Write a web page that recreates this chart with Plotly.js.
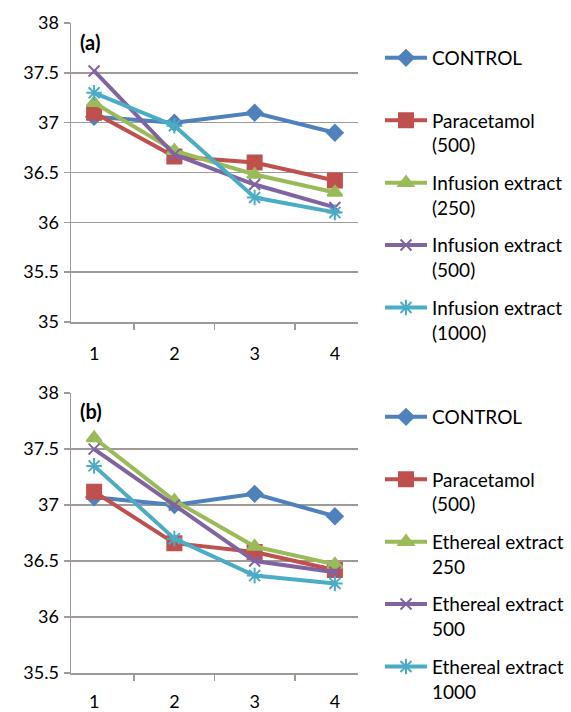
<!DOCTYPE html>
<html>
<head>
<meta charset="utf-8">
<script src="https://cdn.plot.ly/plotly-3.0.1.min.js"></script>
<style>html,body{margin:0;padding:0;background:#fff;}#chart{width:571px;height:712px;}</style>
</head>
<body>
<div id="chart"></div>
<script>
const days = ["1", "2", "3", "4"];

// Panel (a): infusion extract
const controlA = [37.06, 37.0, 37.1, 36.9];
const paracetamolA = [37.1, 36.66, 36.6, 36.42];
const infusion250 = [37.2, 36.72, 36.48, 36.3];
const infusion500 = [37.52, 36.68, 36.38, 36.15];
const infusion1000 = [37.3, 36.97, 36.25, 36.1];

// Panel (b): ethereal extract
const controlB = [37.07, 37.0, 37.1, 36.9];
const paracetamolB = [37.12, 36.66, 36.58, 36.42];
const ethereal250 = [37.6, 37.04, 36.63, 36.47];
const ethereal500 = [37.5, 37.0, 36.5, 36.4];
const ethereal1000 = [37.35, 36.7, 36.37, 36.3];

const namesA = ["CONTROL<br> ", "Paracetamol<br>(500)", "Infusion extract<br>(250)", "Infusion extract<br>(500)", "Infusion extract<br>(1000)"];
const namesB = ["CONTROL<br> ", "Paracetamol<br>(500)", "Ethereal extract<br>250", "Ethereal extract<br>500", "Ethereal extract<br>1000"];

const colors = ["#4F81BD", "#C0504D", "#9BBB59", "#8064A2", "#4BACC6"];
const markers = [
  {symbol: "diamond", size: 12},
  {symbol: "square", size: 14},
  {symbol: "triangle-up", size: 13},
  {symbol: "x-thin-open", size: 11},
  {symbol: "asterisk-open", size: 13}
];

const seriesA = [controlA, paracetamolA, infusion250, infusion500, infusion1000];
const seriesB = [controlB, paracetamolB, ethereal250, ethereal500, ethereal1000];

const traces = [];
seriesA.forEach((ys, i) => {
  traces.push({
    x: days, y: ys, name: namesA[i], type: "scatter", mode: "lines+markers",
    xaxis: "x", yaxis: "y", legend: "legend", legendgroup: "a" + i,
    line: {color: colors[i], width: 4},
    marker: {symbol: markers[i].symbol, size: markers[i].size, color: colors[i], line: {color: colors[i], width: 2}}
  });
});
seriesB.forEach((ys, i) => {
  traces.push({
    x: days, y: ys, name: namesB[i], type: "scatter", mode: "lines+markers",
    xaxis: "x2", yaxis: "y2", legend: "legend2", legendgroup: "b" + i,
    line: {color: colors[i], width: 4},
    marker: {symbol: markers[i].symbol, size: markers[i].size, color: colors[i], line: {color: colors[i], width: 2}}
  });
});

const W = 571, H = 712;
const fx = px => px / W;
const fy = py => 1 - py / H;
const fam = "Lato, 'Liberation Sans', sans-serif";
const font = {family: fam, size: 18, color: "#000"};
const gridC = "#a09a96";

const xCommon = {
  type: "category", showline: true, linecolor: gridC, linewidth: 1.5,
  ticks: "outside", tickson: "boundaries", ticklen: 6, tickcolor: gridC, tickwidth: 1.5,
  showgrid: false, tickfont: font, fixedrange: true
};
const yCommon = {
  showline: true, linecolor: gridC, linewidth: 1.5,
  ticks: "outside", ticklen: 6, tickcolor: gridC, tickwidth: 1.5,
  showgrid: true, gridcolor: gridC, gridwidth: 1.5, zeroline: false,
  dtick: 0.5, tickfont: font, ticklabelstandoff: 1, fixedrange: true
};

const legendFont = {family: fam, size: 19, color: "#000"};

const layout = {
  width: W, height: H,
  margin: {l: 0, r: 0, t: 0, b: 0},
  paper_bgcolor: "#fff", plot_bgcolor: "#fff",
  showlegend: true,
  xaxis: Object.assign({}, xCommon, {domain: [fx(71), fx(358)], anchor: "y", ticklabelstandoff: 15}),
  yaxis: Object.assign({}, yCommon, {domain: [fy(322), fy(23)], range: [35, 38.001], anchor: "x"}),
  xaxis2: Object.assign({}, xCommon, {domain: [fx(71), fx(358)], anchor: "y2", ticklabelstandoff: 12}),
  yaxis2: Object.assign({}, yCommon, {domain: [fy(673), fy(393)], range: [35.5, 38.001], anchor: "x2"}),
  legend: {x: fx(380), y: fy(39), xanchor: "left", yanchor: "top", font: legendFont, valign: "top", itemwidth: 42, tracegroupgap: 10, bgcolor: "rgba(0,0,0,0)", borderwidth: 0},
  legend2: {x: fx(380), y: fy(398), xanchor: "left", yanchor: "top", font: legendFont, valign: "top", itemwidth: 42, tracegroupgap: 10, bgcolor: "rgba(0,0,0,0)", borderwidth: 0},
  annotations: [
    {text: "<b>(a)</b>", xref: "paper", yref: "paper", x: fx(78), y: fy(42), xanchor: "left", yanchor: "middle", showarrow: false, font: {family: fam, size: 20, color: "#000"}},
    {text: "<b>(b)</b>", xref: "paper", yref: "paper", x: fx(78), y: fy(411), xanchor: "left", yanchor: "middle", showarrow: false, font: {family: fam, size: 20, color: "#000"}}
  ]
};

Plotly.newPlot("chart", traces, layout, {displayModeBar: false, staticPlot: true});
</script>
</body>
</html>
